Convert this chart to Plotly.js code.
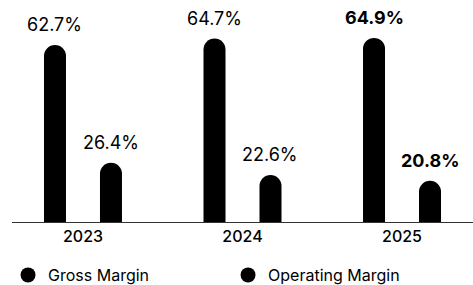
<!DOCTYPE html>
<html><head><meta charset="utf-8">
<script src="https://cdn.plot.ly/plotly-3.0.1.min.js"></script>
<style>html,body{margin:0;padding:0;background:#fff}#chart{width:473px;height:285px}</style>
</head><body><div id="chart"></div>
<script>
const years = ['2023', '2024', '2025'];
const grossMargin = [62.7, 64.7, 64.9];
const operatingMargin = [26.4, 22.6, 20.8];
const seriesNames = ['Gross Margin', 'Operating Margin'];

const FONT = 'Inter, "Noto Sans", sans-serif';
const fmt = (v, i) => (i === years.length - 1 ? '<b>' + v.toFixed(1) + '%</b>' : v.toFixed(1) + '%');

const barStyle = {type: 'bar', marker: {color: '#000', cornerradius: '50%'}, showlegend: false, hoverinfo: 'skip'};
const traces = [
  Object.assign({}, barStyle, {x: years, y: grossMargin, name: seriesNames[0]}),
  Object.assign({}, barStyle, {x: years, y: operatingMargin, name: seriesNames[1]}),
  {type: 'scatter', mode: 'markers', x: [null], y: [null], name: seriesNames[0], marker: {color: '#000', size: 15, symbol: 'circle'}},
  {type: 'scatter', mode: 'markers', x: [null], y: [null], name: seriesNames[1], marker: {color: '#000', size: 15, symbol: 'circle'}}
];

const slot = 0.351;
const annotations = [];
[grossMargin, operatingMargin].forEach((arr, s) => {
  arr.forEach((v, i) => {
    annotations.push({
      x: i + (s === 0 ? -slot / 2 : slot / 2), y: v, xref: 'x', yref: 'y',
      text: fmt(v, i), showarrow: false, yanchor: 'bottom', yshift: 8,
      font: {family: FONT, size: 18, color: '#000'}
    });
  });
});

const layout = {
  width: 473, height: 285,
  margin: {l: 12, r: 0, t: 10, b: 63, autoexpand: false},
  paper_bgcolor: '#fff', plot_bgcolor: '#fff',
  barmode: 'group', bargap: 0.298, bargroupgap: 0.607,
  font: {family: FONT, color: '#000'},
  xaxis: {type: 'category', range: [-0.445, 2.445], showline: true, linecolor: '#333', linewidth: 1,
          ticks: '', tickfont: {family: FONT, size: 16, color: '#000', weight: 500}, showgrid: false, zeroline: false},
  yaxis: {range: [8.1, 73.5], visible: false, showgrid: false, zeroline: false},
  showlegend: true,
  legend: {orientation: 'h', xref: 'container', yref: 'paper', x: 0.017, y: -0.25, xanchor: 'left', yanchor: 'middle',
           font: {family: FONT, size: 16, color: '#000'}, entrywidth: 175, itemclick: false},
  annotations: annotations
};

Plotly.newPlot('chart', traces, layout, {staticPlot: true, displayModeBar: false});
</script></body></html>
